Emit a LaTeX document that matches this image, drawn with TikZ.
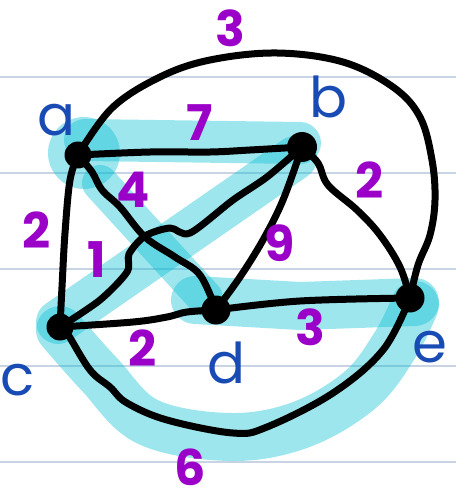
\documentclass[tikz,border=0pt]{standalone}
\usepackage{fontspec}
\setmainfont{Poppins}
\definecolor{rule}{RGB}{200,212,228}
\definecolor{hlc}{RGB}{0,189,210}
\definecolor{vblue}{RGB}{25,75,180}
\definecolor{wpurp}{RGB}{155,0,200}
\tikzset{
  ruleline/.style={draw=rule, line width=0.04cm},
  hl/.style={draw=hlc, draw opacity=0.38, line width=0.88cm, line cap=round, line join=round},
  edge/.style={draw=black, line width=0.14cm, line cap=round, line join=round},
  vtx/.style={circle, fill=black, inner sep=0pt, minimum size=0.54cm},
  vlab/.style={text=vblue, font=\fontsize{32}{32}\selectfont, inner sep=0pt},
  wlab/.style={text=wpurp, font=\bfseries\fontsize{28}{28}\selectfont, inner sep=0pt}
}
\begin{document}
\begin{tikzpicture}[x=0.02cm, y=-0.02cm]
\useasboundingbox (0,0) rectangle (456,500);
% ruled paper
\foreach \yy in {77,173,269,366,462} \draw[ruleline] (0,\yy) -- (456,\yy);
% highlights
\fill[hlc, opacity=0.38] (84,153) circle (0.72cm);
\draw[hl, line width=0.84cm] (85,140) -- (300,143);
\draw[hl, line width=0.72cm] (100,183) -- (205,298);
\draw[hl] (58,322) -- (295,158);
\draw[hl, line width=0.96cm] (195,300) -- (300,306) -- (415,302);
\draw[hl, line width=0.96cm] plot[smooth, tension=0.6] coordinates {(60,330) (100,375) (148,422) (230,437) (300,425) (360,390) (395,345) (415,305)};
% vertices
\node[vtx] (a) at (78,155) {};
\node[vtx, minimum size=0.6cm] (b) at (302,147) {};
\node[vtx] (c) at (60,327) {};
\node[vtx, minimum size=0.58cm] (d) at (216,310) {};
\node[vtx, minimum size=0.58cm] (e) at (410,298) {};
% edges
\draw[edge] plot[smooth, tension=0.6] coordinates {(a.center) (112,108) (160,77) (210,60) (277,53) (343,62) (393,87) (420,117) (432,160) (435,200) (430,235) (418,265) (e.center)};
\draw[edge] plot[smooth, tension=0.6] coordinates {(a.center) (150,152) (210,152) (250,150) (b.center)};
\draw[edge] plot[smooth, tension=0.6] coordinates {(a.center) (70,180) (65,233) (62,287) (c.center)};
\draw[edge] plot[smooth, tension=0.6] coordinates {(a.center) (92,172) (102,190) (120,207) (145,237) (175,257) (200,275) (d.center)};
\draw[edge] plot[smooth, tension=0.6] coordinates {(c.center) (133,322) (167,317) (187,312) (d.center)};
\draw[edge] plot[smooth, tension=0.6] coordinates {(b.center) (283,200) (263,240) (240,277) (d.center)};
\draw[edge] plot[smooth, tension=0.6] coordinates {(b.center) (318,163) (328,185) (357,210) (380,235) (400,267) (e.center)};
\draw[edge] plot[smooth, tension=0.6] coordinates {(d.center) (300,301) (e.center)};
\draw[edge] plot[smooth, tension=0.6] coordinates {(c.center) (67,333) (90,370) (110,387) (127,403) (167,420) (233,433) (267,427) (333,393) (383,350) (e.center)};
\draw[edge] plot[smooth, tension=0.5] coordinates {(c.center) (100,300) (127,272) (129,254) (145,236) (170,228) (190,233) (233,200) (267,177) (b.center)};
% vertex labels
\node[vlab] (la) at (57,120) {a};
\node[vlab] (lb) at (328,97) {b};
\node[vlab] (lc) at (18,380) {c};
\node[vlab] (ld) at (227,363) {d};
\node[vlab] (le) at (430,347) {e};
% weights
\node[wlab] (w1) at (230,28) {3};
\node[wlab] (w2) at (200,123) {7};
\node[wlab] (w3) at (133,190) {4};
\node[wlab] (w4) at (37,230) {2};
\node[wlab] (w5) at (97,260) {1};
\node[wlab] (w6) at (280,243) {9};
\node[wlab] (w7) at (370,180) {2};
\node[wlab] (w8) at (143,348) {2};
\node[wlab] (w9) at (310,327) {3};
\node[wlab] (w10) at (190,467) {6};
\end{tikzpicture}
\end{document}
